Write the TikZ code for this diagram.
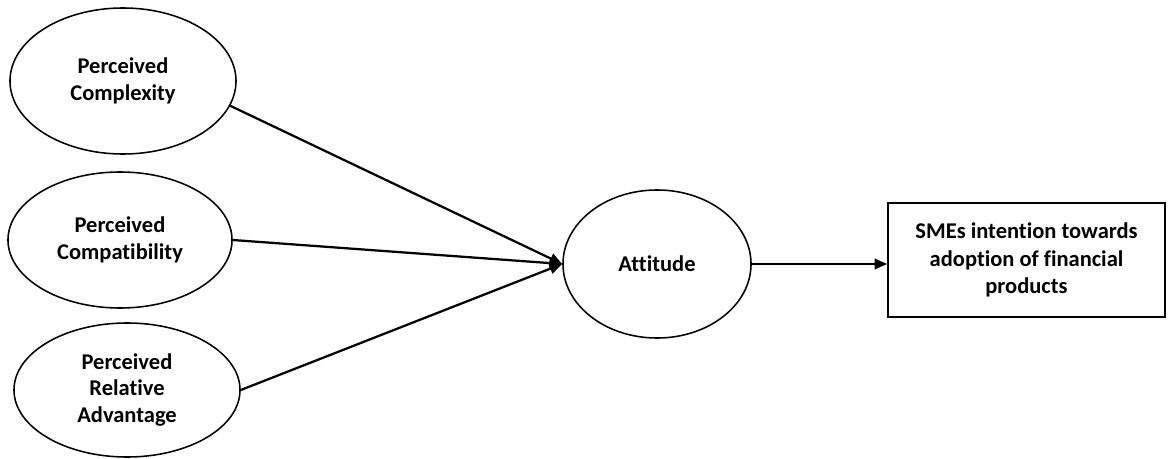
\documentclass[tikz,border=0pt]{standalone}
\usepackage{fontspec}
\setmainfont[Ligatures=NoCommon]{Carlito}
\usetikzlibrary{shapes.geometric,arrows.meta}

\tikzset{
  construct/.style={ellipse, draw=black, line width=1.1pt, inner sep=0pt, align=center,
    font=\bfseries\fontsize{16}{19}\selectfont},
  outcome/.style={rectangle, draw=black, line width=1.1pt, inner sep=0pt, align=center,
    minimum width=6.925cm, minimum height=2.85cm, font=\bfseries\fontsize{16}{19.5}\selectfont},
  path/.style={line width=1.6pt, -{Triangle[length=9pt,width=7.5pt]}}
}

\begin{document}
\begin{tikzpicture}[x=0.025cm, y=-0.025cm]
\useasboundingbox (0,0) rectangle (1169,459);

\node[construct, minimum width=5.65cm, minimum height=3.65cm] (cplx) at (123,81) {Perceived\\Complexity};
\node[construct, minimum width=5.6cm, minimum height=3.4cm] (cpat) at (120,240) {Perceived\\Compatibility};
\node[construct, minimum width=5.65cm, minimum height=3.35cm] (radv) at (127,390) {Perceived\\Relative\\Advantage};

\node[construct, minimum width=4.7cm, minimum height=3.7cm] (att) at (657,264) {Attitude};
\node[outcome] (sme) at (1026.5,260) {SMEs intention towards\\adoption of financial\\products};

\draw[path] (cplx.-13) -- (att.west);
\draw[path] (cpat.east) -- (att.west);
\draw[path] (radv.east) -- (att.west);
\draw[path] (att.east) -- (att.east -| sme.west);

\end{tikzpicture}
\end{document}
